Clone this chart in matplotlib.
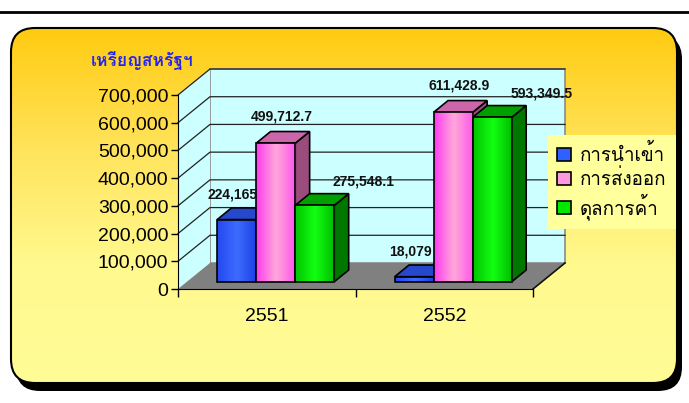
import matplotlib
matplotlib.use("Agg")
import matplotlib.pyplot as plt
import numpy as np
from matplotlib import font_manager
from matplotlib.ft2font import FT2Font
from matplotlib.patches import Polygon, Patch, FancyBboxPatch
from matplotlib.colors import LinearSegmentedColormap

# data
years = ['2551', '2552']
series_names = ['การนำเข้า', 'การส่งออก', 'ดุลการค้า']
imports = [224165, 18079]
exports = [499712.7, 611428.9]
balance = [275548.1, 593349.5]
label_fmt = ['{:,.0f}', '{:,.1f}', '{:,.1f}']
y_ticks = [0, 100000, 200000, 300000, 400000, 500000, 600000, 700000]
unit_title = 'เหรียญสหรัฐฯ'


def find_thai_font():
    for f in font_manager.fontManager.ttflist:
        try:
            if 0x0E01 in FT2Font(f.fname).get_charmap():
                return f.name
        except Exception:
            pass
    return None


thai = find_thai_font()
fams = ['Liberation Sans', 'DejaVu Sans']
if thai:
    fams = ['Liberation Sans', thai, 'DejaVu Sans']
plt.rcParams['font.family'] = fams

values = [imports, exports, balance]
grads = [['#2448EE', '#3D6CFF', '#1C3FE4'],
         ['#FF3CF0', '#FFA8DA', '#FF55EC'],
         ['#00C400', '#12FF12', '#00BC00']]
side_cols = ['#0A23A8', '#9A4C7C', '#007800']
top_cols = ['#2648CC', '#CC66AA', '#00A000']
legend_cols = ['#3060FF', '#FF99DD', '#00E800']
label_off = [(-4, 25), (6, 27), (49, 24)]

W, H = 689, 403
fig = plt.figure(figsize=(W / 100, H / 100), dpi=100)

# background panel (pixel coords)
bg = fig.add_axes([0, 0, 1, 1], zorder=-1)
bg.set_xlim(0, W)
bg.set_ylim(H, 0)
bg.axis('off')
bg.plot([0, W], [11.5, 11.5], color='black', lw=2)
shadow = FancyBboxPatch((16, 35), 666, 356, boxstyle='round,pad=0,rounding_size=24',
                        fc='black', ec='none')
bg.add_patch(shadow)
panel = FancyBboxPatch((11, 28), 666, 355, boxstyle='round,pad=0,rounding_size=24',
                       fc='none', ec='black', lw=1.5, zorder=3)
bg.add_patch(panel)
pcmap = LinearSegmentedColormap.from_list('p', ['#FFCB10', '#FFE35A', '#FFF98E', '#FFFC96'])
gimg = bg.imshow(np.linspace(0, 1, 256).reshape(-1, 1), cmap=pcmap, aspect='auto',
                 extent=(11, 677, 383, 28), zorder=1)
gimg.set_clip_path(panel)
bg.set_xlim(0, W)
bg.set_ylim(H, 0)

# chart axes = front plane
ax = fig.add_axes([178 / W, (H - 289) / H, 355 / W, 194 / H])
ax.patch.set_visible(False)
ymax = 700000
DX = 32 / 355 * 2
DY = 26 / 194 * ymax

wall = '#CCFFFF'
ax.add_patch(Polygon([(DX, DY), (2 + DX, DY), (2 + DX, ymax + DY), (DX, ymax + DY)],
                     fc=wall, ec='#8A8A8A', lw=1.2, clip_on=False, zorder=0.5))
ax.add_patch(Polygon([(0, 0), (DX, DY), (DX, ymax + DY), (0, ymax)],
                     fc=wall, ec='none', clip_on=False, zorder=0.5))
for v in y_ticks[1:]:
    ax.plot([0, DX, 2 + DX], [v, v + DY, v + DY], color='#222222', lw=0.9,
            clip_on=False, zorder=0.6)
ax.add_patch(Polygon([(0, 0), (2, 0), (2 + DX, DY), (DX, DY)],
                     fc='#808080', ec='none', clip_on=False, zorder=0.7))
ax.plot([2, 2 + DX], [0, DY], color='#111111', lw=1.2, clip_on=False, zorder=0.8)

# 3d bars
bw = 0.22
f0, f1 = 0.28, 0.73
ddx = (f1 - f0) * DX
ddy = (f1 - f0) * DY
xpos = np.arange(len(years)) + 0.5
for s in range(3):
    xs = xpos + (s - 1) * bw + f0 * DX
    bars = ax.bar(xs, values[s], bw, bottom=f0 * DY, fc='none', ec='black', lw=1.2)
    cmap = LinearSegmentedColormap.from_list('g%d' % s, grads[s])
    for c, rect in enumerate(bars):
        z = 2 + c * 3 + s
        x0, y0 = rect.get_x(), rect.get_y()
        x1, y1 = x0 + rect.get_width(), y0 + rect.get_height()
        rect.set_zorder(z + 0.2)
        im = ax.imshow(np.linspace(0, 1, 64).reshape(1, -1), cmap=cmap, aspect='auto',
                       extent=(x0, x1, y0, y1), zorder=z + 0.1)
        im.set_clip_path(rect)
        ax.add_patch(Polygon([(x1, y0), (x1 + ddx, y0 + ddy), (x1 + ddx, y1 + ddy), (x1, y1)],
                             fc=side_cols[s], ec='black', lw=1.2, zorder=z, clip_on=False))
        ax.add_patch(Polygon([(x0, y1), (x1, y1), (x1 + ddx, y1 + ddy), (x0 + ddx, y1 + ddy)],
                             fc=top_cols[s], ec='black', lw=1.2, zorder=z, clip_on=False))
        ax.annotate(label_fmt[s].format(values[s][c]), (rect.get_x() + bw / 2, y1),
                    xytext=label_off[s], textcoords='offset pixels', ha='center',
                    va='center', fontsize=10, fontweight='bold', color='#111111',
                    zorder=30, annotation_clip=False)

ax.set_xlim(0, 2)
ax.set_ylim(0, ymax)
for sp in ['top', 'right']:
    ax.spines[sp].set_visible(False)
ax.spines['left'].set_zorder(1)
ax.spines['bottom'].set_zorder(1)
ax.set_yticks(y_ticks)
ax.set_yticklabels(['{:,}'.format(v) for v in y_ticks], fontsize=14)
ax.tick_params(axis='y', length=5, width=1, pad=2)
ax.set_xticks([0, 1, 2])
ax.set_xticklabels(['', '', ''])
ax.tick_params(axis='x', which='major', length=6, width=1)
ax.set_xticks(xpos, minor=True)
ax.set_xticklabels(years, minor=True, fontsize=14)
ax.tick_params(axis='x', which='minor', length=0, pad=14)

fig.text(142 / W, 1 - 60 / H, unit_title, ha='center', va='center', fontsize=12.5,
         fontweight='bold', color='#2424EE')

handles = [Patch(fc=legend_cols[i], ec='black', lw=1.2) for i in range(3)]
leg = fig.legend(handles, series_names, loc='upper left', bbox_to_anchor=(548 / W, 1 - 135 / H),
                 frameon=True, fancybox=False, framealpha=1, facecolor='#FFFF9C',
                 edgecolor='none', fontsize=13.5, handlelength=0.7, handleheight=0.7,
                 handletextpad=0.5, labelspacing=0.2, borderpad=0.5, borderaxespad=0)
leg.set_zorder(40)

fig.savefig('out.png', dpi=100)
